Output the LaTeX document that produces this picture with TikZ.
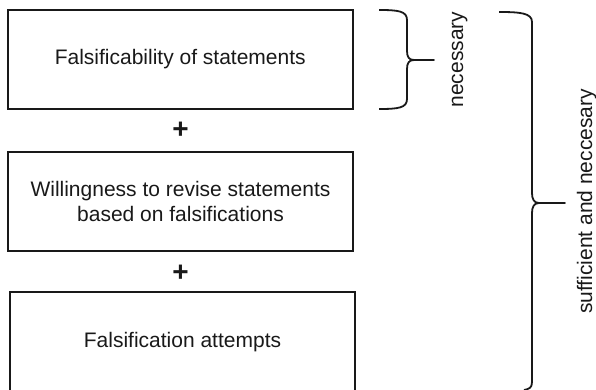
\documentclass[tikz,border=0pt]{standalone}
\usepackage{fontspec}
\setmainfont{Liberation Sans}
\begin{document}
\begin{tikzpicture}[x=1pt,y=-1pt,
  box/.style={draw=black!90, line width=1.8pt, minimum width=345pt, minimum height=99pt,
    inner sep=0pt, align=center, text=black!90, font=\fontsize{21}{25}\selectfont},
  plussign/.style={inner sep=0pt, text=black!90, font=\fontsize{28}{28}\bfseries\selectfont},
  bracket/.style={draw=black!90, line width=1.8pt, line join=round},
  sidelabel/.style={rotate=90, anchor=base, inner sep=0pt, text=black!90,
    font=\fontsize{21}{25}\selectfont}
]
\useasboundingbox (0,0) rectangle (596,390);

% the three conditions
\node[box] (b1) at (180.25,59.5) {Falsificability of statements};
\node[box] (b2) at (180.5,201.5) {Willingness to revise statements\\based on falsifications};
\node[box, minimum height=100pt] (b3) at (182.5,342) {Falsification attempts};

% plus signs between the boxes
\node[plussign] (p1) at (180.5,130) {+};
\node[plussign] (p2) at (180.5,273) {+};

% brace around the first condition
\draw[bracket] (379,10) .. controls (398,10) and (407,11) .. (407,20) -- (407,51)
  .. controls (407,57) and (409,60) .. (414,60) -- (434,60) -- (414,60)
  .. controls (409,60) and (407,63) .. (407,69) -- (407,99)
  .. controls (407,108) and (398,109) .. (379,109);
\node[sidelabel] (nec) at (463,59.5) {necessary};

% brace around all three conditions
\draw[bracket] (499,12) .. controls (520,12) and (532,13) .. (532,22) -- (532,193)
  .. controls (532,199) and (534,203) .. (539,203) -- (565,203) -- (539,203)
  .. controls (534,203) and (532,207) .. (532,213) -- (532,382)
  .. controls (532,388) and (529,389) .. (524,390);
\node[sidelabel] (suf) at (592,201.5) {sufficient and neccesary};
\end{tikzpicture}
\end{document}
